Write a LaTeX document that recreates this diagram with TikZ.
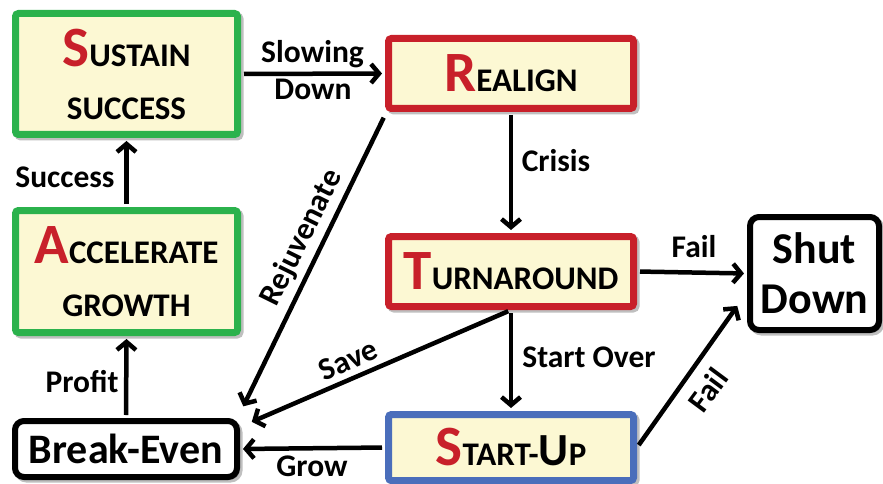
\documentclass[tikz,border=0pt]{standalone}
\usepackage{fontspec}
\setmainfont{Carlito}
\usetikzlibrary{arrows.meta,shadows}
\definecolor{boxfill}{HTML}{FCF8D3}
\definecolor{sgreen}{HTML}{2BB24C}
\definecolor{sred}{HTML}{C8202A}
\definecolor{sblue}{HTML}{4A6EBB}
\newcommand{\initial}[1]{{\color{sred}\fontsize{57}{57}\selectfont #1}}
\begin{document}
\begin{tikzpicture}[x=1pt,y=-1pt,
  stage/.style={draw, fill=boxfill, line width=7pt, rounded corners=3pt, inner sep=0pt,
    align=center, font=\bfseries\fontsize{33}{53}\selectfont,
    drop shadow={shadow xshift=2.5pt,shadow yshift=-2.5pt,opacity=.25,fill=black,draw=black,line width=7pt}},
  endbox/.style={draw=black, fill=white, line width=6pt, rounded corners=9pt, inner sep=0pt,
    align=center, font=\bfseries\fontsize{42}{50}\selectfont,
    drop shadow={shadow xshift=2.5pt,shadow yshift=-2.5pt,opacity=.25,fill=black,draw=black,line width=6pt}},
  conn/.style={line width=4.5pt, -{Straight Barb[length=8pt,width=19pt]}, shorten <=3pt, shorten >=3pt},
  lbl/.style={font=\bfseries\fontsize{31.5}{36}\selectfont, inner sep=0pt}]
\useasboundingbox[fill=white] (0,0) rectangle (883,484);

\node[stage, draw=sgreen, minimum width=222pt, minimum height=121pt] (SS) at (126.5,74)
  {\initial{S}USTAIN\\SUCCESS};
\node[stage, draw=sgreen, minimum width=222pt, minimum height=122pt] (AG) at (126.5,271.5)
  {\initial{A}CCELERATE\\GROWTH};
\node[stage, draw=sred, minimum width=245pt, minimum height=70pt] (RE) at (511,73.5)
  {\initial{R}EALIGN};
\node[stage, draw=sred, minimum width=245pt, minimum height=70pt] (TU) at (511,271.5)
  {\initial{T}URNAROUND};
\node[stage, draw=sblue, minimum width=245pt, minimum height=66pt] (SU) at (511,447.5)
  {\initial{S}TART-{\fontsize{46}{53}\selectfont U}P};
\node[endbox, minimum width=222pt, minimum height=56pt] (BE) at (126,449) {Break-Even};
\node[endbox, font=\bfseries\fontsize{44}{50}\selectfont, minimum width=129pt, minimum height=113pt] (SD) at (814.5,273.5) {Shut\\Down};

\draw[conn] (SS.east) -- (RE.west);
\draw[conn] (RE.south) -- (TU.north);
\draw[conn] (TU.east) -- (SD.west);
\draw[conn] (TU.south) -- (SU.north);
\draw[conn] (TU.south) -- ([shift={(9,5)}]BE.north east);
\draw[conn] ([shift={(0,3)}]RE.south west) -- ([shift={(2,-9)}]BE.north east);
\draw[conn] (SU.east) -- ([shift={(-8,30)}]SD.west);
\draw[conn] (SU.west) -- (BE.east);
\draw[conn] (BE.north) -- (AG.south);
\draw[conn] (AG.north) -- (SS.south);

\node[lbl, anchor=base] (l1) at (312.5,63) {Slowing};
\node[lbl, anchor=base] (l2) at (313,100) {Down};
\node[lbl, anchor=base] (l3) at (556,171) {Crisis};
\node[lbl, anchor=base] (l4) at (694,257) {Fail};
\node[lbl, anchor=base] (l5) at (589,367) {Start Over};
\node[lbl, anchor=base] (l6) at (312,476) {Grow};
\node[lbl, anchor=base] (l7) at (82,392) {Profit};
\node[lbl, anchor=base] (l8) at (65,187) {Success};
\node[lbl, rotate=63.7] (l9) at (302,238) {Rejuvenate};
\node[lbl, rotate=24.4] (l10) at (348,360) {Save};
\node[lbl, rotate=53.4] (l11) at (708,390) {Fail};
\end{tikzpicture}
\end{document}
